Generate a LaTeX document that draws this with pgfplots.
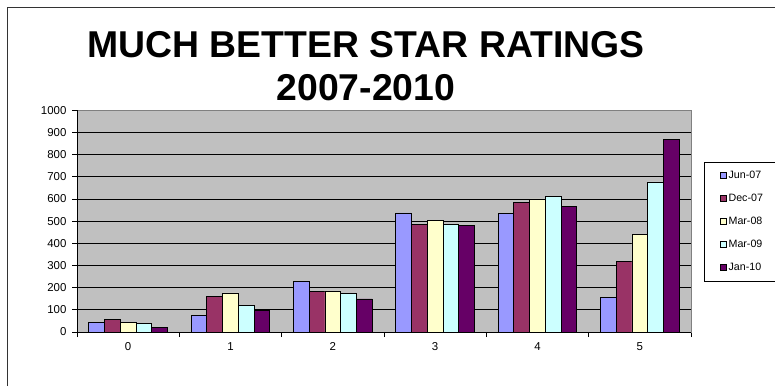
\documentclass[border=0pt]{standalone}
\usepackage{pgfplots}
\pgfplotsset{compat=1.18}
\usepackage{pgfplotstable}
\usepackage{fontspec}
\setmainfont{Liberation Sans}

\definecolor{sJun}{HTML}{9999FF}
\definecolor{sDec}{HTML}{993366}
\definecolor{sMarA}{HTML}{FFFFCC}
\definecolor{sMarB}{HTML}{CCFFFF}
\definecolor{sJan}{HTML}{660066}
\definecolor{plotbg}{HTML}{C0C0C0}

% star rating counts per survey date
\pgfplotstableread{
cat J07 D07 M08 M09 J10
0   42  57  45  40  20
1   75  160 176 120 98
2   230 181 185 175 149
3   537 487 502 487 481
4   534 584 600 613 568
5   157 319 441 677 869
}\ratings

\begin{document}
\begin{tikzpicture}[x=1bp,y=1bp]
\useasboundingbox (0,0) rectangle (775,386);
% chart area frame
\draw[black!80, line width=0.8bp] (7.5,0) -- (7.5,378.5) -- (776,378.5);
% title
\node[font=\bfseries\fontsize{37.5}{40}\selectfont, anchor=base] at (366,329) {MUCH BETTER STAR RATINGS};
\node[font=\bfseries\fontsize{37.5}{40}\selectfont, anchor=base] at (366,286) {2007-2010};

\begin{axis}[
  at={(77bp,54bp)}, anchor=south west,
  scale only axis, width=614bp, height=221.7bp,
  xmin=-0.5, xmax=5.5, ymin=0, ymax=1000,
  ybar=0pt, bar width=15.75bp,
  axis background/.style={fill=plotbg},
  axis line style={draw=black!50, line width=0.8bp},
  ytick={0,100,...,1000},
  ymajorgrids, major grid style={black, line width=0.8bp},
  xtick={0,...,5}, xticklabels={0,1,2,3,4,5},
  minor xtick={-0.5,0.5,...,5.5},
  xtick pos=bottom, ytick pos=left,
  x tick style={draw=none},
  minor x tick style={draw=black, line width=0.8bp},
  y tick style={draw=black, line width=0.8bp},
  tick align=outside,
  major tick length=5bp, minor tick length=5bp,
  tick label style={font=\fontsize{11.5}{12}\selectfont},
  /pgf/number format/assume math mode=true,
  /pgf/number format/1000 sep={},
  yticklabel style={xshift=-2bp},
  xticklabel style={yshift=-2bp},
  legend image code/.code={\draw[#1,draw=black,line width=0.7bp] (0bp,-3bp) rectangle (6bp,3bp);},
  legend cell align=left,
  legend style={
    at={(axis description cs:1.0212,0.7668)}, anchor=north west,
    draw=black, line width=0.8bp, fill=white,
    font=\fontsize{10.7}{11}\selectfont,
    inner xsep=16bp, inner ysep=8bp,
    row sep=12.5bp,
    nodes={text height=8bp, text depth=2.5bp, inner xsep=1.5bp, inner ysep=0pt},
    text width=52bp,
  },
  every axis plot/.append style={draw=black, line width=0.8bp},
]
\addplot[fill=sJun]  table[x=cat,y=J07] {\ratings};
\addplot[fill=sDec]  table[x=cat,y=D07] {\ratings};
\addplot[fill=sMarA] table[x=cat,y=M08] {\ratings};
\addplot[fill=sMarB] table[x=cat,y=M09] {\ratings};
\addplot[fill=sJan]  table[x=cat,y=J10] {\ratings};
\legend{Jun-07,Dec-07,Mar-08,Mar-09,Jan-10}
\draw[black, line width=0.8bp] (rel axis cs:0,1) -- (rel axis cs:0,0) -- (rel axis cs:1,0);
\end{axis}
\end{tikzpicture}
\end{document}
